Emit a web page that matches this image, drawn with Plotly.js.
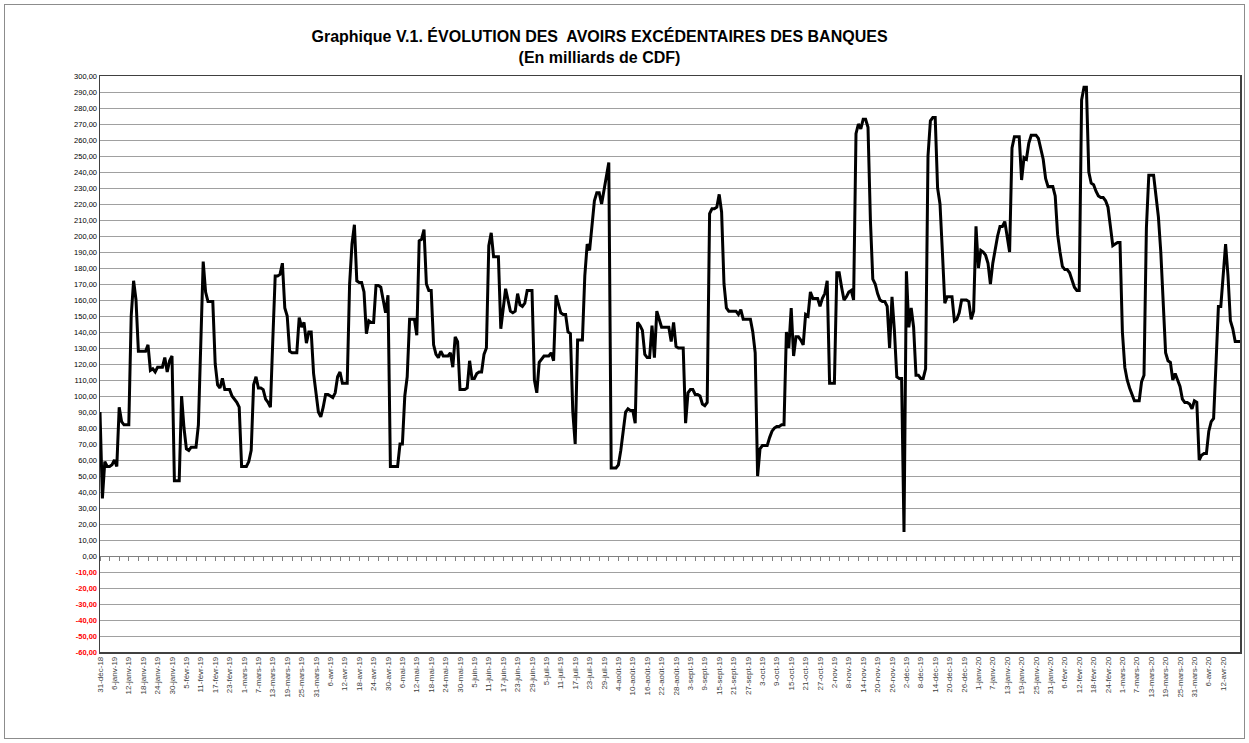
<!DOCTYPE html>
<html><head><meta charset="utf-8">
<script src="https://cdn.plot.ly/plotly-3.0.1.min.js"></script>
<style>
body{margin:0;background:#fff}
#frame{position:absolute;left:4px;top:4px;width:1239px;height:733px;border:1px solid #8c8c8c;pointer-events:none}
</style>
</head><body>
<div id="chart" style="width:1249px;height:743px"></div>
<div id="frame"></div>
<script>
// Daily series, 31 Dec 2018 -> 19 Apr 2020 (billions of CDF)
const startDate = '2018-12-31';
const values = [
 90,36,59,56,56,57,60,56,93,84,
 82,82,82,150,172,160,128,128,128,128,
 132,116,117,115,118,118,118,124,115,122,
 125,47,47,47,100,80,67,66,68,68,
 68,82,135,184,165,159,159,159,120,107,
 105,111,104,104,104,100,98,96,93,56,
 56,56,59,66,107,112,105,105,104,98,
 96,93,135,175,175,176,183,155,150,128,
 127,127,127,149,143,146,133,140,140,114,
 100,90,87,93,101,101,100,99,102,112,
 115,108,108,108,170,195,207,172,171,171,
 165,139,147,146,146,169,169,168,160,152,
 163,56,56,56,56,70,70,100,112,148,
 148,148,138,197,198,204,170,166,166,132,
 126,124,128,125,125,125,127,118,137,134,
 104,104,104,105,122,111,111,114,115,115,
 126,130,194,202,187,187,187,142,153,167,
 160,153,152,153,164,157,156,158,166,166,
 166,110,102,121,123,125,125,125,127,122,
 163,157,152,151,151,140,139,90,70,135,
 135,135,175,195,191,205,222,227,227,220,
 228,238,246,55,55,55,57,66,78,90,
 92,91,91,83,146,144,141,126,124,124,
 144,124,153,148,143,143,143,143,134,146,
 131,130,130,130,83,102,104,104,101,101,
 100,95,94,96,214,217,217,218,226,215,
 170,155,153,153,153,153,151,154,148,148,
 148,148,140,127,50,67,69,69,69,74,
 78,80,81,81,82,82,140,130,155,125,
 137,137,135,132,151,150,165,161,161,161,
 156,161,164,172,108,108,108,177,177,168,
 160,162,165,166,160,264,270,267,273,273,
 268,210,173,170,164,160,159,159,156,130,
 162,141,112,111,111,15,178,143,155,143,
 113,113,111,111,117,250,272,274,274,230,
 220,190,158,162,162,162,147,148,152,160,
 160,160,159,148,153,206,180,191,190,188,
 183,170,183,192,200,206,206,209,200,190,
 255,262,262,262,235,249,248,258,263,263,
 263,261,254,248,236,231,231,231,225,201,
 190,181,179,179,177,173,168,166,166,285,
 293,293,240,233,232,228,225,224,224,222,
 218,206,194,195,196,196,140,118,110,105,
 101,97,97,97,109,113,205,238,238,238,
 225,212,190,160,127,122,121,110,114,110,
 106,98,96,96,95,92,97,96,60,63,
 64,64,78,84,86,120,156,156,177,195,
 175,147,142,134,134,134
];
const tickLabels = [
 '31-déc-18','6-janv-19','12-janv-19','18-janv-19','24-janv-19','30-janv-19',
 '5-févr-19','11-févr-19','17-févr-19','23-févr-19',
 '1-mars-19','7-mars-19','13-mars-19','19-mars-19','25-mars-19','31-mars-19',
 '6-avr-19','12-avr-19','18-avr-19','24-avr-19','30-avr-19',
 '6-mai-19','12-mai-19','18-mai-19','24-mai-19','30-mai-19',
 '5-juin-19','11-juin-19','17-juin-19','23-juin-19','29-juin-19',
 '5-juil-19','11-juil-19','17-juil-19','23-juil-19','29-juil-19',
 '4-août-19','10-août-19','16-août-19','22-août-19','28-août-19',
 '3-sept-19','9-sept-19','15-sept-19','21-sept-19','27-sept-19',
 '3-oct-19','9-oct-19','15-oct-19','21-oct-19','27-oct-19',
 '2-nov-19','8-nov-19','14-nov-19','20-nov-19','26-nov-19',
 '2-déc-19','8-déc-19','14-déc-19','20-déc-19','26-déc-19',
 '1-janv-20','7-janv-20','13-janv-20','19-janv-20','25-janv-20','31-janv-20',
 '6-févr-20','12-févr-20','18-févr-20','24-févr-20',
 '1-mars-20','7-mars-20','13-mars-20','19-mars-20','25-mars-20','31-mars-20',
 '6-avr-20','12-avr-20'
];
const yTicks = [300,290,280,270,260,250,240,230,220,210,200,190,180,170,160,150,140,130,120,110,100,90,80,70,60,50,40,30,20,10,0,-10,-20,-30,-40,-50,-60];

// consecutive calendar days for the category axis
const DAY = 86400000;
const t0 = Date.parse(startDate + 'T00:00:00Z');
const dates = values.map((v, i) => new Date(t0 + i * DAY).toISOString().slice(0, 10));
const tickDates = tickLabels.map((s, i) => dates[i * 6]);
const yText = yTicks.map(v => {
  const s = v.toFixed(2).replace('.', ',');
  return v < 0 ? '<span style="color:#ff0000"><b>' + s + '</b></span>' : s;
});
const xRange = [dates[0], dates[dates.length - 1]];

const traces = [
  {x: dates, y: values, type: 'scatter', mode: 'lines',
   line: {color: '#000000', width: 3}, showlegend: false, hoverinfo: 'x+y'},
  {x: [dates[0]], y: [null], xaxis: 'x2', type: 'scatter', mode: 'lines',
   showlegend: false, hoverinfo: 'skip'}
];

const layout = {
  width: 1249, height: 743,
  margin: {l: 100, r: 9, t: 76, b: 91},
  paper_bgcolor: '#ffffff', plot_bgcolor: '#ffffff',
  font: {family: 'Liberation Sans, Arial, sans-serif', color: '#000'},
  title: {
    text: '<b>Graphique V.1. ÉVOLUTION DES  AVOIRS EXCÉDENTAIRES DES BANQUES</b><br><b>(En milliards de CDF)</b>',
    font: {family: 'Liberation Sans, Arial, sans-serif', size: 16, color: '#000'},
    xref: 'container', x: 0.48, xanchor: 'center',
    yref: 'container', y: 0.943, yanchor: 'top'
  },
  xaxis: {
    type: 'date', range: xRange,
    tickmode: 'array', tickvals: tickDates, ticktext: tickLabels,
    tickangle: -90, tickfont: {size: 8, color: '#404040'},
    ticks: '', showgrid: false, zeroline: false,
    showline: true, mirror: true, linecolor: '#404040', linewidth: 1.5
  },
  xaxis2: {
    type: 'date', range: xRange, overlaying: 'x', anchor: 'free', position: 60 / 360,
    showticklabels: false, showgrid: false, zeroline: false,
    showline: true, linecolor: '#808080', linewidth: 1,
    ticks: 'outside', ticklen: 4, tickcolor: '#808080',
    tick0: startDate, dtick: 4 * DAY
  },
  yaxis: {
    range: [-60, 300], tickmode: 'array', tickvals: yTicks, ticktext: yText,
    tickfont: {size: 7.5, color: '#000'},
    showgrid: true, gridcolor: '#a0a0a0', gridwidth: 1,
    zeroline: false, ticks: '',
    showline: true, mirror: true, linecolor: '#404040', linewidth: 1.5
  }
};

Plotly.newPlot('chart', traces, layout, {staticPlot: true, displayModeBar: false});
</script>
</body></html>
